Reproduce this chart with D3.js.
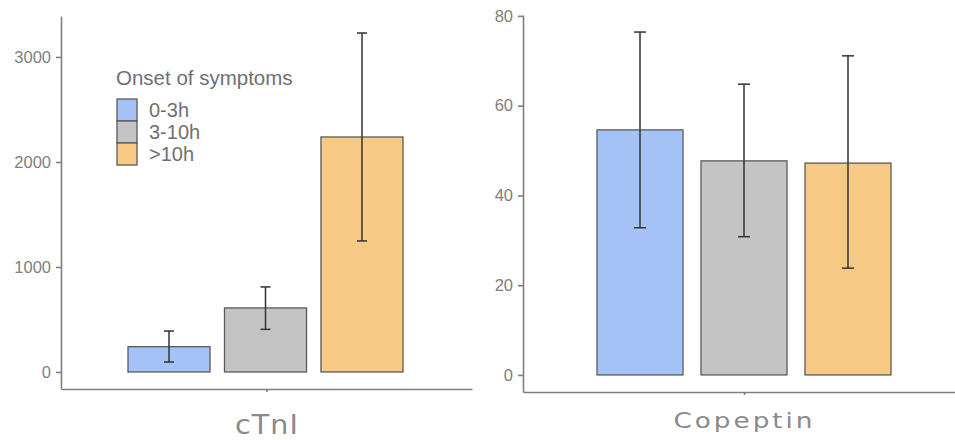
<!DOCTYPE html>
<html>
<head>
<meta charset="utf-8">
<script src="https://cdn.jsdelivr.net/npm/d3@7"></script>
<style>
  body { margin: 0; background: #fff; }
  svg { display: block; }
</style>
</head>
<body>
<svg id="chart" width="955" height="440"></svg>
<script>
// onset groups, shared by both panels
const groups = ["0-3h", "3-10h", ">10h"];
const colors = ["#a4c2f6", "#c4c4c4", "#f6ca84"];

// cTnI panel
const ctniMean = [241, 610, 2238];
const ctniLow = [95, 406, 1248];
const ctniHigh = [390, 810, 3228];
const ctniTicks = [0, 1000, 2000, 3000];

// Copeptin panel
const copMean = [54.6, 47.7, 47.2];
const copLow = [32.8, 30.8, 23.8];
const copHigh = [76.4, 64.8, 71.1];
const copTicks = [0, 20, 40, 60, 80];

var svg = d3.select("#chart");
var axisColor = "#7f7f7f";

function panel(opt) {
	var g = svg.append("g");

	var y = d3.scaleLinear().domain(opt.yDomain).range(opt.yRange);
	var x = d3.scaleBand().domain(groups).range(opt.barRange).paddingInner(opt.pad);
	var xa = d3.scalePoint().domain([opt.label]).range(opt.xRange).padding(0.5);

	var yAxis = g.append("g")
		.attr("transform", `translate(${opt.xRange[0]},0)`)
		.call(d3.axisLeft(y).tickValues(opt.ticks).tickFormat(d3.format("d"))
			.tickSize(5).tickSizeOuter(0).tickPadding(5));

	var xAxis = g.append("g")
		.attr("transform", `translate(0,${opt.yRange[0]})`)
		.call(d3.axisBottom(xa).tickSize(3).tickSizeOuter(0).tickPadding(opt.labelPad));

	[yAxis, xAxis].forEach(a => {
		a.select(".domain").attr("stroke", axisColor).attr("stroke-width", 1.6);
		a.selectAll(".tick line").attr("stroke", axisColor).attr("stroke-width", 1.6);
	});
	yAxis.selectAll(".tick text")
		.attr("fill", "#808080")
		.attr("font-family", "Liberation Sans, Arial, sans-serif")
		.attr("font-size", "16.5px");
	// axis title is spaced and stretched a bit wider, as in the picture
	xAxis.selectAll(".tick text")
		.attr("fill", "#8a8a8a")
		.attr("font-family", "DejaVu Sans, sans-serif")
		.attr("font-size", opt.labelSize)
		.attr("letter-spacing", opt.spacing)
		.attr("textLength", opt.labelWidth)
		.attr("lengthAdjust", "spacingAndGlyphs");

	var data = groups.map((k, i) => ({key: k, mean: opt.mean[i], low: opt.low[i], high: opt.high[i], color: colors[i]}));

	g.selectAll("rect.bar")
		.data(data)
		.enter()
		.append("rect")
		.attr("class", "bar")
		.attr("x", d => x(d.key))
		.attr("width", x.bandwidth())
		.attr("y", d => y(d.mean))
		.attr("height", d => y(0) - y(d.mean))
		.attr("fill", d => d.color)
		.attr("stroke", "#5a5a5a")
		.attr("stroke-width", 1.3);

	var err = g.selectAll("g.err")
		.data(data)
		.enter()
		.append("g")
		.attr("class", "err")
		.attr("stroke", "#333")
		.attr("stroke-width", 1.5);

	err.append("line")
		.attr("x1", d => x(d.key) + x.bandwidth() / 2)
		.attr("x2", d => x(d.key) + x.bandwidth() / 2)
		.attr("y1", d => y(d.low))
		.attr("y2", d => y(d.high));
	["low", "high"].forEach(e => {
		err.append("line")
			.attr("x1", d => x(d.key) + x.bandwidth() / 2 - opt.cap)
			.attr("x2", d => x(d.key) + x.bandwidth() / 2 + opt.cap)
			.attr("y1", d => y(d[e]))
			.attr("y2", d => y(d[e]));
	});
}

panel({
	label: "cTnI", mean: ctniMean, low: ctniLow, high: ctniHigh, ticks: ctniTicks,
	yDomain: [-162, 3390], yRange: [389, 16],
	xRange: [61, 472], barRange: [128, 403], pad: 0.15,
	labelPad: 24, labelSize: "26px", spacing: "1px", labelWidth: 64, cap: 5
});

panel({
	label: "Copeptin", mean: copMean, low: copLow, high: copHigh, ticks: copTicks,
	yDomain: [-3.8, 80.2], yRange: [392, 15],
	xRange: [523, 965], barRange: [597, 891], pad: 0.173,
	labelPad: 17, labelSize: "22px", spacing: "2.5px", labelWidth: 142, cap: 6
});

// legend
const legend = svg.append("g")
	.attr("transform", "translate(117,99)")
	.attr("font-family", "Liberation Sans, Arial, sans-serif")
	.attr("fill", "#707070");

legend.append("text")
	.attr("x", -1)
	.attr("y", -14)
	.attr("font-size", "20.5px")
	.text("Onset of symptoms");

groups.forEach((grp, i) => {
	legend.append("rect")
		.attr("x", 0)
		.attr("y", i * 22)
		.attr("width", 20)
		.attr("height", 22)
		.attr("fill", colors[i])
		.attr("stroke", "#5a5a5a")
		.attr("stroke-width", 1.3);
	legend.append("text")
		.attr("x", 32)
		.attr("y", i * 22 + 18)
		.attr("font-size", "20px")
		.text(grp);
});
</script>
</body>
</html>
